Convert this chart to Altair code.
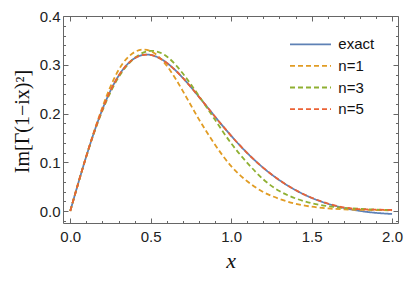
import altair as alt
import pandas as pd

# ---------------- data ----------------
xs = [0.0, 0.1, 0.2, 0.3, 0.4, 0.5, 0.6, 0.7, 0.8, 0.9, 1.0,
      1.1, 1.2, 1.3, 1.4, 1.5, 1.6, 1.7, 1.8, 1.9, 2.0]
exact = [0.0, 0.1125, 0.2087, 0.2770, 0.3133, 0.3201, 0.3039, 0.2730, 0.2342, 0.1935, 0.1543,
         0.1190, 0.0886, 0.0634, 0.0430, 0.0271, 0.0151, 0.0064, 0.0003, -0.0037, -0.0060]
n1 = [0.0, 0.113, 0.213, 0.289, 0.326, 0.328, 0.298, 0.246, 0.188, 0.136, 0.092,
      0.061, 0.039, 0.025, 0.015, 0.009, 0.0055, 0.0035, 0.0025, 0.002, 0.0015]
n3 = [0.0, 0.112, 0.206, 0.274, 0.314, 0.3285, 0.317, 0.282, 0.236, 0.187, 0.139,
      0.099, 0.065, 0.041, 0.026, 0.016, 0.010, 0.0065, 0.0045, 0.003, 0.002]
n5 = [0.0, 0.1125, 0.2087, 0.2770, 0.3133, 0.3201, 0.3039, 0.2730, 0.2342, 0.1935, 0.1543,
      0.1190, 0.0886, 0.0634, 0.0430, 0.0272, 0.0155, 0.0075, 0.0040, 0.0028, 0.0022]

series_names = ["exact", "n=1", "n=3", "n=5"]
series_values = [exact, n1, n3, n5]
colors = ["#5E81B5", "#E19C24", "#8FB032", "#EB6235"]
dashes = [[1, 0], [5, 3], [5, 3], [5, 3]]

x_major = [0.0, 0.5, 1.0, 1.5, 2.0]
x_minor = [0.1, 0.2, 0.3, 0.4, 0.6, 0.7, 0.8, 0.9, 1.1, 1.2, 1.3, 1.4, 1.6, 1.7, 1.8, 1.9]
y_major = [0.0, 0.1, 0.2, 0.3, 0.4]
y_minor = [-0.02, 0.02, 0.04, 0.06, 0.08, 0.12, 0.14, 0.16, 0.18, 0.22, 0.24, 0.26, 0.28,
           0.32, 0.34, 0.36, 0.38]

rows = []
for name, vals in zip(series_names, series_values):
    for xv, yv in zip(xs, vals):
        rows.append({"x": xv, "y": yv, "series": name})
df = pd.DataFrame(rows)

# ---------------- layout ----------------
W, H = 335, 207
FRAME = "#666666"
xscale = alt.Scale(domain=[-0.045, 2.037], nice=False, zero=False)
yscale = alt.Scale(domain=[-0.0245, 0.4], nice=False, zero=False)

legend = alt.Legend(
    title=None, orient="none", legendX=236.5, legendY=17.3, padding=0,
    symbolType="M-2.05,0H2.05", symbolSize=400, symbolStrokeWidth=1.8,
    labelFont="Liberation Sans", labelFontSize=15, labelColor="#111111",
    labelOffset=16.8, rowPadding=2.6,
)

base = alt.Chart(df)

lines = base.mark_line(interpolate="natural", strokeWidth=1.8).encode(
    x=alt.X("x:Q", scale=xscale, axis=alt.Axis(
        orient="bottom", values=x_major, format=".1f", ticks=False, domain=False, grid=False,
        labelFont="Liberation Sans", labelFontSize=15, labelColor="#222222", labelPadding=6,
        labelFlush=False, labelOverlap=False,
        title="x", titleFont="Liberation Serif", titleFontStyle="italic", titleFontWeight="normal",
        titleFontSize=22, titleColor="#111111", titleX=W / 2, titleY=44, titleBaseline="alphabetic",
        titleAlign="center")),
    y=alt.Y("y:Q", scale=yscale, axis=alt.Axis(
        orient="left", values=y_major, format=".1f", ticks=False, domain=False, grid=False,
        labelFont="Liberation Sans", labelFontSize=15, labelColor="#222222", labelPadding=3,
        labelFlush=False, labelOverlap=False,
        title="Im[Γ(1−ix)²]", titleFont="Liberation Serif", titleFontWeight="normal",
        titleFontSize=20, titleColor="#111111", titleX=-35, titleY=105, titleAngle=270,
        titleBaseline="alphabetic", titleAlign="center")),
    color=alt.Color("series:N", scale=alt.Scale(domain=series_names, range=colors), legend=legend),
    strokeDash=alt.StrokeDash("series:N", scale=alt.Scale(domain=series_names, range=dashes),
                              legend=legend),
)


def tick_layer(xvals, xorient, yvals, yorient, size):
    return base.mark_line(strokeOpacity=0).encode(
        x=alt.X("x:Q", scale=xscale, axis=alt.Axis(
            orient=xorient, offset=-H, values=xvals, labels=False, domain=False, grid=False,
            ticks=True, tickSize=size, tickColor=FRAME, tickWidth=1, title=None)),
        y=alt.Y("y:Q", scale=yscale, axis=alt.Axis(
            orient=yorient, offset=-W, values=yvals, labels=False, domain=False, grid=False,
            ticks=True, tickSize=size, tickColor=FRAME, tickWidth=1, title=None)),
    )


layers = [
    lines,
    tick_layer(x_major, "top", y_major, "right", 5),
    tick_layer(x_minor, "top", y_minor, "right", 2.5),
    tick_layer(x_major, "bottom", y_major, "left", 5),
    tick_layer(x_minor, "bottom", y_minor, "left", 2.5),
]

chart = alt.layer(*layers).resolve_axis(x="independent", y="independent").properties(
    width=W, height=H,
    padding={"left": 55, "top": 8, "right": 9, "bottom": 50},
    autosize=alt.AutoSizeParams(type="none"),
).configure_view(stroke=FRAME, strokeWidth=1)

chart.save("out.html", embed_options={"renderer": "svg", "actions": False})
